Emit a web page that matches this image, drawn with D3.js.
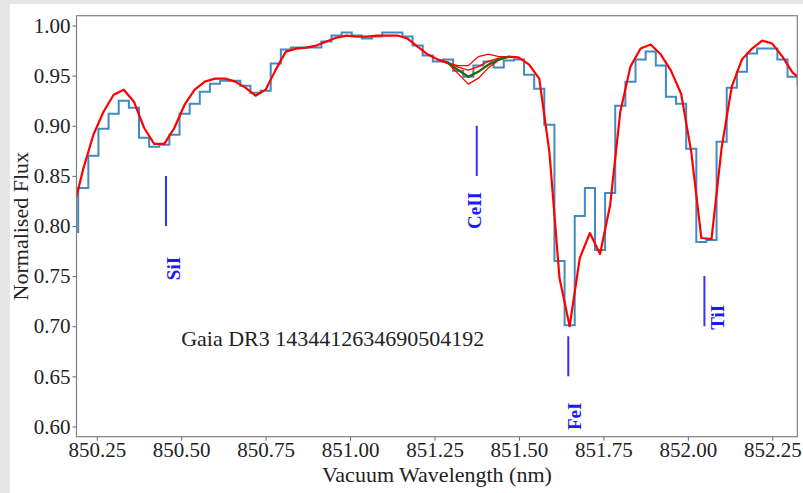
<!DOCTYPE html>
<html>
<head>
<meta charset="utf-8">
<script src="https://cdn.jsdelivr.net/npm/d3@7"></script>
<style>
  html, body { margin: 0; padding: 0; background: #e6e6e6; }
  svg { display: block; }
</style>
</head>
<body>
<div id="chart"></div>
<script>
// bin centres of the observed spectrum (nm)
const wavelengths = [
  850.18, 850.21, 850.24, 850.27, 850.30, 850.33, 850.36, 850.39, 850.42, 850.45,
  850.48, 850.51, 850.54, 850.57, 850.60, 850.63, 850.66, 850.69, 850.72, 850.75,
  850.78, 850.81, 850.84, 850.87, 850.90, 850.93, 850.96, 850.99, 851.02, 851.05,
  851.08, 851.11, 851.14, 851.17, 851.20, 851.23, 851.26, 851.29, 851.32, 851.35,
  851.38, 851.41, 851.44, 851.47, 851.50, 851.53, 851.56, 851.59, 851.62, 851.65,
  851.68, 851.71, 851.74, 851.77, 851.80, 851.83, 851.86, 851.89, 851.92, 851.95,
  851.98, 852.01, 852.04, 852.07, 852.10, 852.13, 852.16, 852.19, 852.22, 852.25,
  852.28, 852.31, 852.34
];

// observed normalised flux (blue steps)
const observedFlux = [
  0.794, 0.838, 0.870, 0.897, 0.912, 0.925, 0.918, 0.888, 0.879, 0.881,
  0.891, 0.912, 0.922, 0.934, 0.942, 0.945, 0.945, 0.940, 0.933, 0.935,
  0.962, 0.976, 0.978, 0.978, 0.978, 0.984, 0.990, 0.993, 0.990, 0.987,
  0.989, 0.993, 0.993, 0.989, 0.980, 0.970, 0.964, 0.966, 0.955, 0.949,
  0.960, 0.964, 0.958, 0.965, 0.966, 0.951, 0.937, 0.901, 0.765, 0.701,
  0.810, 0.838, 0.776, 0.833, 0.920, 0.944, 0.966, 0.974, 0.960, 0.929,
  0.922, 0.877, 0.784, 0.786, 0.884, 0.938, 0.954, 0.972, 0.977, 0.977,
  0.966, 0.949, 0.941
];

// best-fit synthetic spectrum (red)
const modelFlux = [
  0.816, 0.857, 0.891, 0.914, 0.931, 0.936, 0.924, 0.898, 0.882, 0.882,
  0.898, 0.921, 0.936, 0.944, 0.947, 0.947, 0.944, 0.938, 0.930, 0.936,
  0.956, 0.974, 0.977, 0.978, 0.980, 0.984, 0.988, 0.990, 0.989, 0.989,
  0.990, 0.990, 0.990, 0.987, 0.979, 0.971, 0.966, 0.963, 0.9555, 0.949,
  0.954, 0.961, 0.966, 0.969, 0.968, 0.961, 0.947, 0.874, 0.748, 0.700,
  0.768, 0.793, 0.772, 0.821, 0.914, 0.959, 0.977, 0.981, 0.971, 0.955,
  0.932, 0.874, 0.788, 0.787, 0.878, 0.939, 0.966, 0.977, 0.985, 0.982,
  0.969, 0.953, 0.945
];

// Ce II fitting window: variants of the model around the line
const ceWave = [851.26, 851.29, 851.32, 851.35, 851.38, 851.41, 851.44, 851.47, 851.50];
const ceUpper = [0.966, 0.962, 0.960, 0.960, 0.969, 0.9715, 0.969, 0.969, 0.968];
const ceMid = [0.966, 0.9635, 0.9585, 0.9555, 0.959, 0.9645, 0.9675, 0.969, 0.968];
const ceLower = [0.966, 0.962, 0.952, 0.9415, 0.9475, 0.958, 0.9655, 0.969, 0.968];
const ceFitWave = [851.29, 851.32, 851.35, 851.38, 851.41, 851.44, 851.47];
const ceFit = [0.963, 0.9555, 0.949, 0.954, 0.961, 0.966, 0.969];

// identified lines
const lineNames = ["SiI", "CeII", "FeI", "TiI"];
const lineWave = [850.455, 851.375, 851.646, 852.049];
const lineTop = [0.85, 0.90, 0.69, 0.75];
const lineBottom = [0.80, 0.85, 0.65, 0.70];
const labelWave = [850.476, 851.367, 851.663, 852.086];
const labelFlux = [0.746, 0.797, 0.5965, 0.6965];

const xTicks = [850.25, 850.50, 850.75, 851.00, 851.25, 851.50, 851.75, 852.00, 852.25];
const yTicks = [0.60, 0.65, 0.70, 0.75, 0.80, 0.85, 0.90, 0.95, 1.00];

const starName = "Gaia DR3 1434412634690504192";

(function chart() {

    const WIDTH = 803;
    const HEIGHT = 493;
    const FONT = "'Liberation Serif', 'DejaVu Serif', serif";
    const plot = { left: 76.5, right: 797.3, top: 15.7, bottom: 436.7 };

    const svg = d3.select("#chart").append("svg")
        .attr("width", WIDTH)
        .attr("height", HEIGHT);

    // white figure area over the grey page
    svg.append("rect")
        .attr("x", 10).attr("y", 4)
        .attr("width", WIDTH - 10).attr("height", HEIGHT - 4)
        .attr("fill", "#fff");

    const x = d3.scaleLinear().domain([850.19, 852.324]).range([plot.left, plot.right]);
    const y = d3.scaleLinear().domain([0.5898, 1.0098]).range([plot.bottom, plot.top]);

    svg.append("clipPath").attr("id", "clip")
        .append("rect")
        .attr("x", plot.left).attr("y", plot.top)
        .attr("width", plot.right - plot.left).attr("height", plot.bottom - plot.top);

    const g = svg.append("g").attr("clip-path", "url(#clip)");

    const stepLine = d3.line()
        .x(d => x(d[0])).y(d => y(d[1]))
        .curve(d3.curveStep);
    const polyLine = d3.line()
        .x(d => x(d[0])).y(d => y(d[1]));

    // observed spectrum
    g.append("path")
        .attr("d", stepLine(d3.zip(wavelengths, observedFlux)))
        .attr("fill", "none")
        .attr("stroke", "#1f77b4")
        .attr("stroke-opacity", 0.85)
        .attr("stroke-width", 2);

    // model
    g.append("path")
        .attr("d", polyLine(d3.zip(wavelengths, modelFlux)))
        .attr("fill", "none")
        .attr("stroke", "#f00")
        .attr("stroke-width", 2.2)
        .attr("stroke-linejoin", "round");

    [ceUpper, ceMid, ceLower].forEach(v => {
        g.append("path")
            .attr("d", polyLine(d3.zip(ceWave, v)))
            .attr("fill", "none")
            .attr("stroke", "#f00")
            .attr("stroke-width", 1.3);
    });

    g.append("path")
        .attr("d", polyLine(d3.zip(ceFitWave, ceFit)))
        .attr("fill", "none")
        .attr("stroke", "#008000")
        .attr("stroke-width", 1.8);

    // line markers
    g.selectAll(".marker")
        .data(lineNames)
        .enter().append("line")
        .attr("x1", (d, i) => x(lineWave[i]))
        .attr("x2", (d, i) => x(lineWave[i]))
        .attr("y1", (d, i) => y(lineTop[i]))
        .attr("y2", (d, i) => y(lineBottom[i]))
        .attr("stroke", "#3333ff")
        .attr("stroke-width", 2);

    g.selectAll(".lbl")
        .data(lineNames)
        .enter().append("text")
        .attr("transform", (d, i) => `translate(${x(labelWave[i])},${y(labelFlux[i])}) rotate(-90)`)
        .attr("dy", "0.35em")
        .attr("fill", "#1a1aff")
        .style("font-family", FONT)
        .style("font-weight", "bold")
        .style("font-size", "19px")
        .text(d => d);

    svg.append("text")
        .attr("x", x(850.50))
        .attr("y", y(0.68))
        .attr("fill", "#222")
        .style("font-family", FONT)
        .style("font-size", "22px")
        .text(starName);

    // axes
    const xAxis = svg.append("g")
        .attr("transform", `translate(0,${plot.bottom})`)
        .call(d3.axisBottom(x).tickValues(xTicks).tickFormat(d3.format(".2f"))
            .tickSize(4).tickPadding(1).tickSizeOuter(0));
    const yAxis = svg.append("g")
        .attr("transform", `translate(${plot.left},0)`)
        .call(d3.axisLeft(y).tickValues(yTicks).tickFormat(d3.format(".2f"))
            .tickSize(4).tickPadding(2).tickSizeOuter(0));

    [xAxis, yAxis].forEach(a => {
        a.select(".domain").remove();
        a.selectAll(".tick line").attr("stroke", "#666");
        a.selectAll(".tick text")
            .attr("fill", "#222")
            .style("font-family", FONT)
            .style("font-size", "21px");
    });

    // frame
    svg.append("rect")
        .attr("x", plot.left).attr("y", plot.top)
        .attr("width", plot.right - plot.left).attr("height", plot.bottom - plot.top)
        .attr("fill", "none")
        .attr("stroke", "#808080")
        .attr("stroke-width", 1.2);

    svg.append("text")
        .attr("x", (plot.left + plot.right) / 2)
        .attr("y", 482)
        .attr("text-anchor", "middle")
        .attr("fill", "#222")
        .style("font-family", FONT)
        .style("font-size", "22px")
        .text("Vacuum Wavelength (nm)");

    svg.append("text")
        .attr("transform", `translate(28,${(plot.top + plot.bottom) / 2}) rotate(-90)`)
        .attr("text-anchor", "middle")
        .attr("fill", "#222")
        .style("font-family", FONT)
        .style("font-size", "22px")
        .text("Normalised Flux");

})();
</script>
</body>
</html>
